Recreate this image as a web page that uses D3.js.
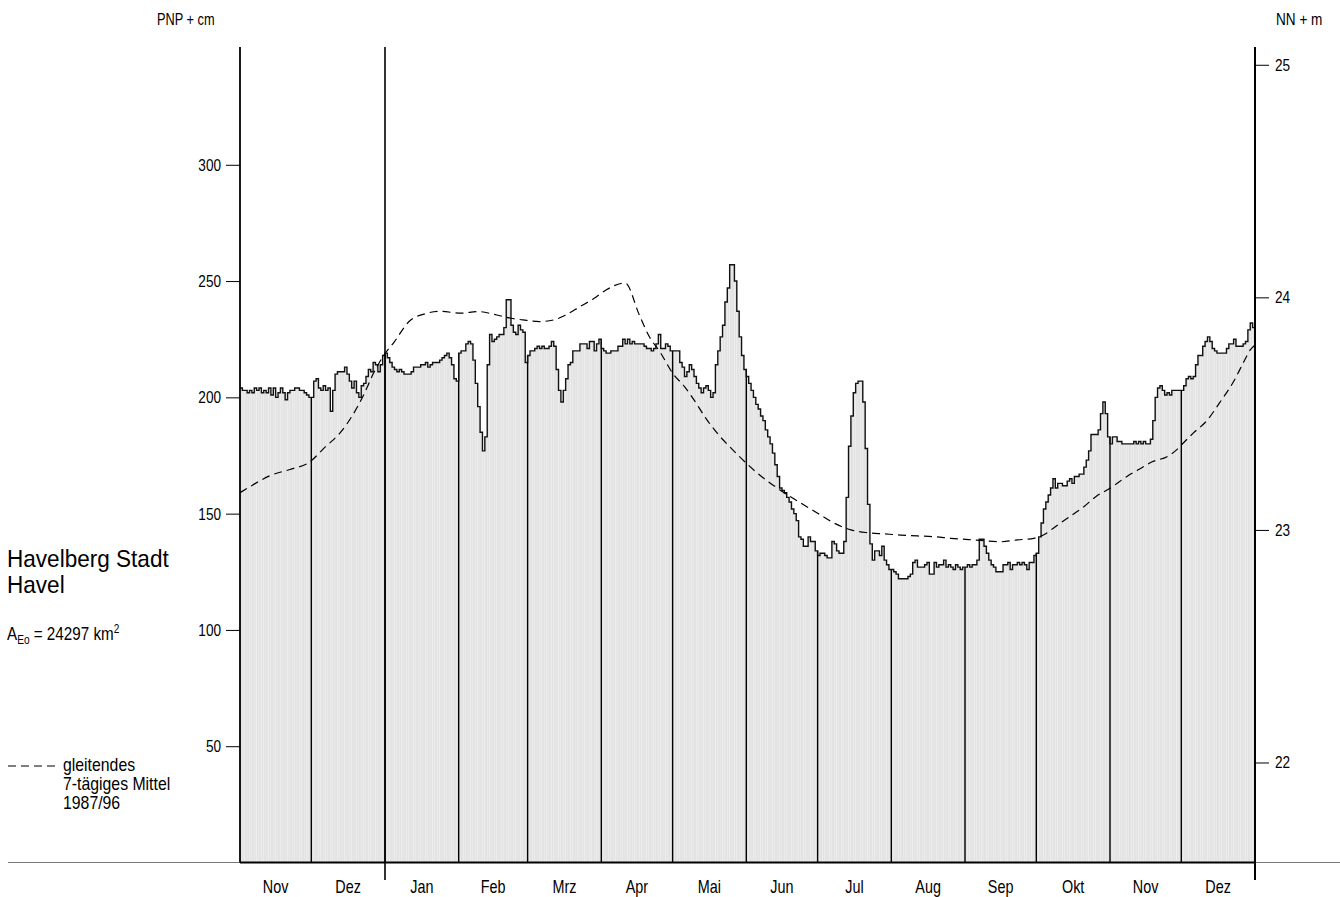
<!DOCTYPE html>
<html>
<head>
<meta charset="utf-8">
<script src="https://cdn.jsdelivr.net/npm/d3@7"></script>
<style>
  body { margin: 0; background: #fff; }
  svg { display: block; }
  text { font-family: "Liberation Sans", Arial, sans-serif; fill: #000; }
</style>
</head>
<body>
<svg id="chart" width="1340" height="897"></svg>
<script>
// Daily water levels (PNP + cm), Nov of the previous year to Dec
const monthNames = ["Nov", "Dez", "Jan", "Feb", "Mrz", "Apr", "Mai", "Jun", "Jul", "Aug", "Sep", "Okt", "Nov", "Dez"];
const monthLengths = [30, 31, 31, 29, 31, 30, 31, 30, 31, 31, 30, 31, 30, 31];

const levelNovPrev = [204,203,203,202,203,202,204,203,204,202,203,202,204,201,204,200,202,204,202,199,202,203,203,204,204,203,203,202,201,200];
const levelDezPrev = [200,207,208,204,203,205,203,204,194,203,210,211,211,211,213,210,207,204,207,202,200,205,206,209,212,211,215,214,211,214,218];
const levelJan = [219,217,215,213,212,211,212,211,210,210,210,211,213,213,213,214,214,215,213,214,215,215,215,216,217,218,219,217,214,208,207];
const levelFeb = [219,220,220,223,224,223,216,206,196,185,177,183,214,227,224,225,226,227,227,230,242,242,231,228,227,231,229,228,215];
const levelMrz = [218,220,220,221,222,221,222,221,221,222,224,222,212,203,198,203,208,214,215,220,220,220,223,223,223,221,224,224,220,223,225];
const levelApr = [221,220,219,219,220,220,220,222,222,225,223,225,223,224,223,223,223,223,222,221,221,220,221,223,227,221,221,223,222,220];
const levelMai = [220,220,220,215,213,209,211,214,212,209,206,204,202,204,205,203,200,202,214,220,226,231,241,247,257,257,250,237,226,218,212];
const levelJun = [209,206,203,200,197,195,192,190,186,183,180,176,171,166,161,160,159,157,155,152,150,147,140,139,136,136,140,138,138,134];
const levelJul = [132,133,133,132,131,131,138,137,134,133,133,138,157,179,192,202,206,207,207,198,178,154,137,130,134,134,132,136,130,128,126];
const levelAug = [126,125,124,122,122,122,122,123,124,129,130,127,127,127,128,129,124,124,129,127,128,128,130,127,128,127,126,128,127,126,127];
const levelSep = [127,128,127,128,128,130,139,139,136,133,130,128,127,125,125,125,128,128,129,126,128,128,129,128,129,128,126,129,129,132];
const levelOkt = [133,140,146,152,155,158,161,165,161,163,163,162,162,164,165,163,166,166,167,167,170,173,177,184,184,184,186,193,198,193,183];
const levelNov = [180,183,183,181,181,180,180,180,180,180,181,180,181,180,181,180,180,182,190,200,204,205,203,201,202,201,203,203,203,203];
const levelDez = [203,205,208,209,208,209,214,218,218,222,224,226,224,221,220,219,219,219,219,221,223,223,225,222,222,222,223,224,229,232,230];

// Sliding 7-day mean 1987/96 (day index from 1 Nov, value in cm)
const meanDay   = [0, 4, 13, 21, 29, 36, 42, 47, 52, 56, 60, 65, 71, 78, 84, 93, 100, 108, 114, 119, 126, 132, 137, 143, 149, 154, 162, 168, 172, 177, 182, 187, 191, 196, 202, 206, 217, 226, 236, 243, 250, 257, 264, 271, 278, 285, 292, 299, 310, 320, 327, 334, 338, 343, 349, 355, 360, 366, 373, 379, 384, 390, 394, 396, 401, 407, 412, 418, 422, 425, 427];
const meanLevel = [159, 161.5, 166.5, 169, 172, 178.8, 184.6, 191.7, 201, 210, 217.3, 224, 232.5, 236, 237, 236.2, 236.9, 235.4, 234, 233.3, 232.6, 233.3, 235.4, 239, 242.6, 246.2, 249.2, 235.4, 226.5, 219, 210.4, 204.6, 198.9, 191, 183.1, 178.8, 168, 161, 154.5, 150.2, 145.9, 143, 141.8, 141.3, 140.8, 140.4, 140.1, 139.4, 138.6, 137.9, 138.7, 139.4, 140.8, 144.4, 148.7, 153, 157.3, 160.9, 165.9, 169.5, 172.4, 174.5, 177.4, 179.5, 184.6, 190.3, 197.5, 206.8, 214.7, 220.4, 222.5];

const leftTicks = [50, 100, 150, 200, 250, 300];
const rightTicks = [22, 23, 24, 25];
const gaugeZero = 21.57; // PNP in m NN

const stationLines = ["Havelberg Stadt", "Havel"];
const legendLines = ["gleitendes", "7-tägiges Mittel", "1987/96"];

(function draw() {
  const level = [].concat(levelNovPrev, levelDezPrev, levelJan, levelFeb, levelMrz, levelApr,
                          levelMai, levelJun, levelJul, levelAug, levelSep, levelOkt, levelNov, levelDez);
  const nDays = d3.sum(monthLengths);
  const monthStart = Array.from(d3.cumsum([0].concat(monthLengths))); // boundaries, length 15

  const svg = d3.select("#chart");
  const plotLeft = 240, plotRight = 1255, plotTop = 47, base = 862.5;

  const x = d3.scaleLinear().domain([0, nDays]).range([plotLeft, plotRight]);
  const y = d3.scaleLinear().domain([0, 350]).range([base, 48.5]);
  const yNN = d3.scaleLinear().domain([gaugeZero, gaugeZero + 3.5]).range([base, 48.5]);

  // condensed sans: regular face squeezed horizontally
  function label(g, tx, ty, str, size, anchor, squeeze) {
    return g.append("text")
      .attr("transform", `translate(${tx},${ty}) scale(${squeeze || 0.8},1)`)
      .attr("font-size", size)
      .attr("text-anchor", anchor || "start")
      .text(str);
  }
  // several lines in one text element
  function block(g, tx, ty, lines, size, lineStep, squeeze) {
    const t = g.append("text")
      .attr("transform", `translate(${tx},${ty}) scale(${squeeze},1)`)
      .attr("font-size", size);
    lines.forEach((s, i) => t.append("tspan").attr("x", 0).attr("y", i * lineStep).text(s));
    return t;
  }

  // daily bars
  svg.append("g").selectAll("rect")
    .data(level)
    .join("rect")
    .attr("x", (v, i) => x(i))
    .attr("width", (v, i) => x(i + 1) - x(i) - 0.2)
    .attr("y", v => y(v))
    .attr("height", v => base - y(v))
    .attr("fill", "#e3e3e3");

  // month separators inside the bars
  const inner = monthStart.slice(1, -1);
  svg.append("g").selectAll("line")
    .data(inner)
    .join("line")
    .attr("x1", d => x(d)).attr("x2", d => x(d))
    .attr("y1", base)
    .attr("y2", d => y(Math.max(level[d - 1], level[d])))
    .attr("stroke", "#000")
    .attr("stroke-width", 1.4);

  // stepped outline of the daily levels
  const stepPts = level.map((v, i) => [i, v]).concat([[nDays, level[nDays - 1]]]);
  svg.append("path")
    .datum(stepPts)
    .attr("fill", "none")
    .attr("stroke", "#111")
    .attr("stroke-width", 1.4)
    .attr("d", d3.line().x(d => x(d[0])).y(d => y(d[1])).curve(d3.curveStepAfter));

  // long-term mean, dashed
  svg.append("path")
    .datum(meanDay.map((d, i) => [d, meanLevel[i]]))
    .attr("fill", "none")
    .attr("stroke", "#000")
    .attr("stroke-width", 1.2)
    .attr("stroke-dasharray", "8,5")
    .attr("d", d3.line().x(d => x(d[0])).y(d => y(d[1])).curve(d3.curveMonotoneX));

  // baseline
  svg.append("line").attr("x1", 8).attr("x2", 1340).attr("y1", base).attr("y2", base)
    .attr("stroke", "#777").attr("stroke-width", 1);
  svg.append("line").attr("x1", plotLeft).attr("x2", plotRight).attr("y1", base).attr("y2", base)
    .attr("stroke", "#000").attr("stroke-width", 2);

  // left axis
  const leftAxis = svg.append("g").attr("transform", `translate(${plotLeft},0)`)
    .call(d3.axisLeft(y).tickValues(leftTicks).tickSize(14).tickFormat(""));
  leftAxis.select(".domain").remove();
  leftAxis.selectAll(".tick line").attr("stroke", "#000").attr("stroke-width", 1);
  svg.append("line").attr("x1", plotLeft).attr("x2", plotLeft).attr("y1", plotTop).attr("y2", base)
    .attr("stroke", "#000").attr("stroke-width", 1.8);
  leftTicks.forEach(t => label(svg, 221, y(t) + 6, t, 17, "end"));

  // right axis
  const rightAxis = svg.append("g").attr("transform", `translate(${plotRight},0)`)
    .call(d3.axisRight(yNN).tickValues(rightTicks).tickSize(14).tickFormat(""));
  rightAxis.select(".domain").remove();
  rightAxis.selectAll(".tick line").attr("stroke", "#000").attr("stroke-width", 1);
  svg.append("line").attr("x1", plotRight).attr("x2", plotRight).attr("y1", plotTop).attr("y2", 880)
    .attr("stroke", "#000").attr("stroke-width", 2);
  rightTicks.forEach(t => label(svg, 1275, yNN(t) + 6, t, 17, "start"));

  // year boundary
  svg.append("line").attr("x1", x(monthStart[2])).attr("x2", x(monthStart[2]))
    .attr("y1", plotTop).attr("y2", 880)
    .attr("stroke", "#000").attr("stroke-width", 1.6);

  // month names
  monthNames.forEach((m, i) => label(svg, (x(monthStart[i]) + x(monthStart[i + 1])) / 2, 892.5, m, 18, "middle"));

  // axis titles
  label(svg, 157, 25, "PNP + cm", 16);
  label(svg, 1276, 25, "NN + m", 17);

  // station
  block(svg, 7, 566.5, stationLines, 24, 27, 0.94);
  const area = svg.append("text")
    .attr("transform", "translate(7,640) scale(0.845,1)")
    .attr("font-size", 18);
  area.append("tspan").text("A");
  area.append("tspan").attr("font-size", 12).attr("dy", 4).text("Eo");
  area.append("tspan").attr("dy", -4).text(" = 24297 km");
  area.append("tspan").attr("font-size", 12).attr("dy", -7).text("2");

  // legend
  svg.append("line").attr("x1", 8).attr("x2", 56).attr("y1", 766).attr("y2", 766)
    .attr("stroke", "#000").attr("stroke-width", 1.2).attr("stroke-dasharray", "8,5");
  block(svg, 63, 771, legendLines, 18.5, 19, 0.855);
})();
</script>
</body>
</html>
